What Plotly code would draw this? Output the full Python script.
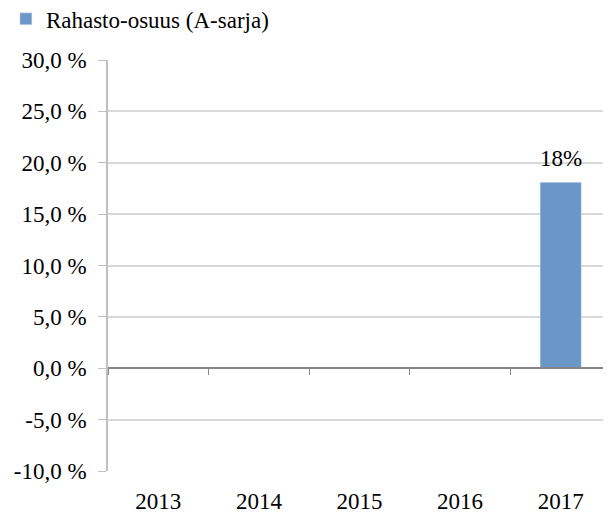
import plotly.graph_objects as go

years = ["2013", "2014", "2015", "2016", "2017"]
share = [None, None, None, None, 18.1]
share_labels = ["", "", "", "", "18%"]
tick_vals = [-10, -5, 0, 5, 10, 15, 20, 25, 30]
tick_labels = ["-10,0 %", "-5,0 %", "0,0 %", "5,0 %", "10,0 %", "15,0 %", "20,0 %", "25,0 %", "30,0 %"]

font = dict(family="Times New Roman, Liberation Serif, serif", size=23, color="#000000")

fig = go.Figure()

fig.add_trace(
    go.Bar(
        x=years,
        y=share,
        name="Rahasto-osuus (A-sarja)",
        marker=dict(color="#6b97c8"),
        width=0.41,
    )
)

# value labels above the bars (category axis -> use the category index)
for i, (v, lab) in enumerate(zip(share, share_labels)):
    if v is None:
        continue
    fig.add_annotation(
        x=i, y=v, xref="x", yref="y", text=lab, showarrow=False,
        yanchor="bottom", yshift=9, font=font,
    )

# helper trace so the bottom label axis knows the categories
fig.add_trace(
    go.Scatter(
        x=years,
        y=[0]*len(years),
        xaxis="x2",
        mode="markers",
        marker=dict(opacity=0),
        hoverinfo="skip",
        showlegend=False,
    )
)

fig.update_layout(
    width=603,
    height=507,
    margin=dict(l=100, r=0, t=52, b=44, autoexpand=False),
    paper_bgcolor="white",
    plot_bgcolor="white",
    font=font,
    showlegend=True,
    legend=dict(
        x=-0.203, y=1.10, xanchor="left", yanchor="middle",
        font=font, itemwidth=30, bgcolor="rgba(0,0,0,0)",
    ),
    xaxis=dict(
        type="category",
        range=[-0.5, 4.5],
        anchor="free",
        position=0.25,
        showline=True,
        linecolor="#868686",
        linewidth=1.5,
        ticks="outside",
        tickson="boundaries",
        ticklen=6,
        tickcolor="#868686",
        showticklabels=False,
        showgrid=False,
        zeroline=False,
        automargin=False,
    ),
    xaxis2=dict(
        type="category",
        range=[-0.5, 4.5],
        overlaying="x",
        anchor="y",
        side="bottom",
        showline=False,
        ticks="",
        showgrid=False,
        tickfont=font,
        ticklabelstandoff=14,
        zeroline=False,
        automargin=False,
    ),
    yaxis=dict(
        range=[-10, 30],
        tickvals=tick_vals,
        ticktext=tick_labels,
        showline=True,
        linecolor="#bfbfbf",
        linewidth=1.5,
        ticks="outside",
        ticklen=8,
        tickcolor="#bfbfbf",
        showgrid=True,
        gridcolor="#d9d9d9",
        gridwidth=1.5,
        zeroline=False,
        tickfont=font,
        ticklabelstandoff=7,
        automargin=False,
    ),
)

fig.write_html("out.html")
